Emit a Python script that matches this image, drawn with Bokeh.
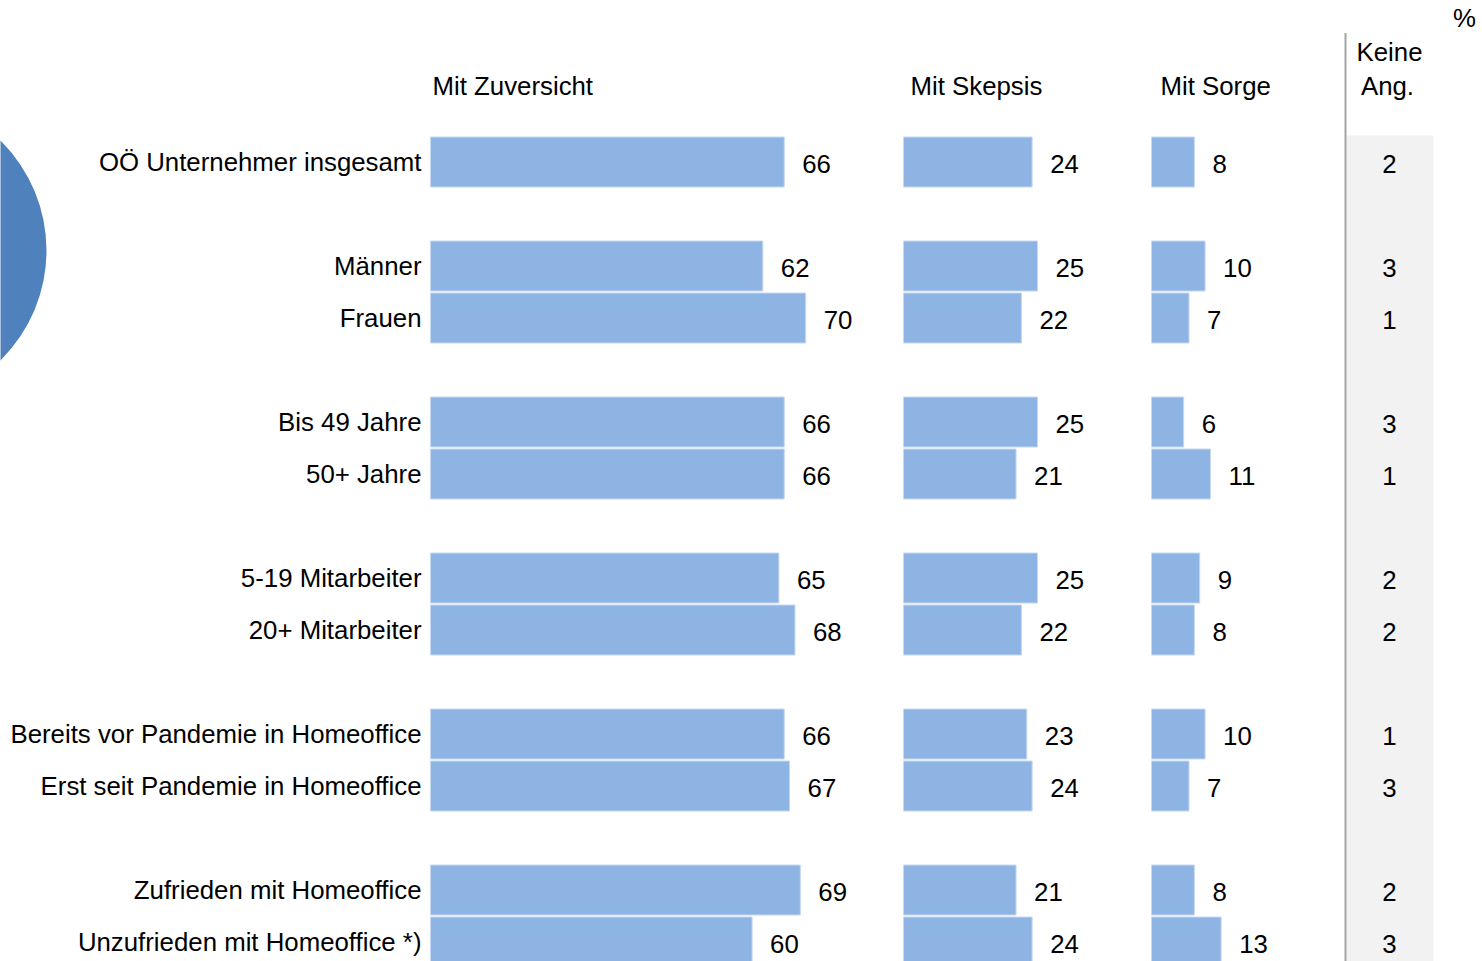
from bokeh.plotting import figure
from bokeh.models import Range1d, ColumnDataSource
from bokeh.embed import file_html
from bokeh.resources import INLINE
from bokeh.core.properties import value

# ---------------- data ----------------
categories = [
    "OÖ Unternehmer insgesamt",
    "Männer",
    "Frauen",
    "Bis 49 Jahre",
    "50+ Jahre",
    "5-19 Mitarbeiter",
    "20+ Mitarbeiter",
    "Bereits vor Pandemie in Homeoffice",
    "Erst seit Pandemie in Homeoffice",
    "Zufrieden mit Homeoffice",
    "Unzufrieden mit Homeoffice *)",
]
zuversicht = [66, 62, 70, 66, 66, 65, 68, 66, 67, 69, 60]
skepsis = [24, 25, 22, 25, 21, 25, 22, 23, 24, 21, 24]
sorge = [8, 10, 7, 6, 11, 9, 8, 10, 7, 8, 13]
keine_ang = [2, 3, 1, 3, 1, 2, 2, 1, 3, 2, 3]
row_slots = [0, 2, 3, 5, 6, 8, 9, 11, 12, 14, 15]  # groups separated by an empty slot
series_titles = ["Mit Zuversicht", "Mit Skepsis", "Mit Sorge"]

# ---------------- layout ----------------
W, H = 1482, 961
FONT = value("Liberation Sans")
FS = "25.8px"
BAR = "#8EB4E3"
ROW0, PITCH, BAR_H = 161.5, 52, 50
SCALE = 5.36
TY = -10  # text baseline correction
panel_start = [430, 903, 1151]
title_x = [432, 910, 1160]

p = figure(width=W, height=H, x_range=Range1d(0, W), y_range=Range1d(H, 0),
           output_backend="svg", toolbar_location=None,
           x_axis_type=None, y_axis_type=None, min_border=0)
p.grid.visible = False
p.outline_line_color = None
p.background_fill_color = "white"

# decorative circle on the left
p.circle(x=[-108], y=[250], radius=154, fill_color="#4F81BD", line_color=None)

# grey "Keine Ang." column and dotted separator
p.quad(left=[1346], right=[1433], top=[135], bottom=[961], fill_color="#F2F2F2", line_color=None)
p.segment(x0=[1345], y0=[33], x1=[1345], y1=[961], line_color="#4A4A4A", line_width=2, line_dash="1 1")

ys = [ROW0 + PITCH * s for s in row_slots]

for vals, x0, title, tx in zip([zuversicht, skepsis, sorge], panel_start, series_titles, title_x):
    src = ColumnDataSource(dict(
        y=ys,
        left=[x0] * len(vals),
        right=[x0 + v * SCALE for v in vals],
        lx=[x0 + v * SCALE + 18 for v in vals],
        ly=[y + 11.5 + TY for y in ys],
        txt=[str(v) for v in vals],
    ))
    p.hbar(y="y", left="left", right="right", height=BAR_H, source=src,
           fill_color=BAR, line_color="#C6D9F1", line_width=1)
    p.text(x="lx", y="ly", text="txt", source=src, text_font=FONT, text_font_size=FS,
           text_color="black", text_align="left", text_baseline="alphabetic")
    p.text(x=[tx], y=[95 + TY], text=[title], text_font=FONT, text_font_size=FS,
           text_color="black", text_align="left", text_baseline="alphabetic")

# category labels
p.text(x=[421] * len(categories), y=[y + 9.5 + TY for y in ys], text=categories,
       text_font=FONT, text_font_size=FS, text_color="black",
       text_align="right", text_baseline="alphabetic")

# keine Angabe values
p.text(x=[1389] * len(keine_ang), y=[y + 11.5 + TY for y in ys], text=[str(v) for v in keine_ang],
       text_font=FONT, text_font_size=FS, text_color="black",
       text_align="center", text_baseline="alphabetic")

p.text(x=[1389, 1387], y=[61 + TY, 95 + TY], text=["Keine", "Ang."], text_font=FONT, text_font_size=FS,
       text_color="black", text_align="center", text_baseline="alphabetic")
p.text(x=[1464], y=[27 + TY], text=["%"], text_font=FONT, text_font_size=FS,
       text_color="black", text_align="center", text_baseline="alphabetic")

open("out.html", "w").write(file_html(p, INLINE))
